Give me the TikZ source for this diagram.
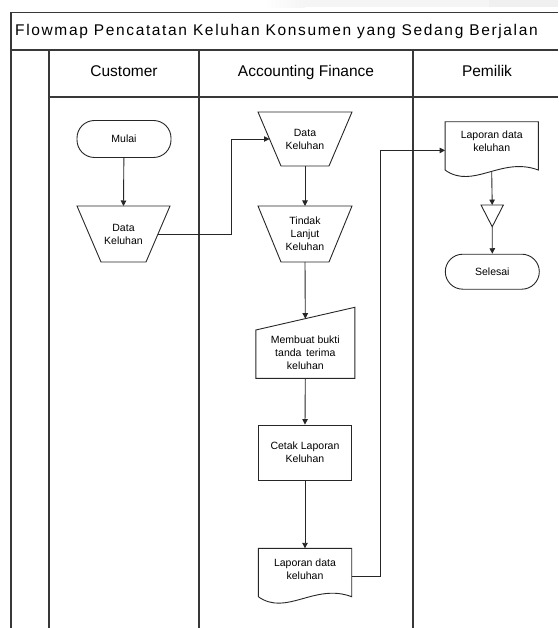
\documentclass[tikz,border=0pt]{standalone}
\usepackage{fontspec}
\setmainfont{Liberation Sans}
\newfontfamily\titlefont[LetterSpace=10.6]{Liberation Sans}
\usetikzlibrary{arrows.meta,calc}
\begin{document}
\begin{tikzpicture}[x=1pt,y=-1pt,
  lane/.style={draw=black!78, line width=1.2pt},
  shp/.style={draw=black!85, line width=0.9pt},
  arr/.style={draw=black!85, line width=0.9pt, -{Triangle[length=5.5pt,width=5.5pt]}},
  txt/.style={font=\fontsize{10.5}{13}\selectfont, align=center, inner sep=0pt},
  hdr/.style={font=\fontsize{15.5}{18}\selectfont, inner sep=0pt},
  box/.style={inner sep=0pt, outer sep=0pt},
  term/.style={shp, txt, rounded corners=17.5pt},
  proc/.style={shp, txt}
]
\useasboundingbox (0,0) rectangle (558,628);
% screenshot band at the top right
\shade[left color=white, right color=gray!8] (265,0) rectangle (305,7.5);
\fill[gray!8] (305,0) rectangle (489,7.5);
\fill[gray!12] (489,0) rectangle (558,7.5);

% swimlane frame
\draw[lane] (11,12.5) -- (558,12.5);
\draw[lane] (11,50) -- (558,50);
\draw[lane] (49,97) -- (558,97);
\draw[lane] (11,12.5) -- (11,628);
\draw[lane] (49,50) -- (49,628);
\draw[lane] (199,50) -- (199,628);
\draw[lane] (413,50) -- (413,628);

\node[anchor=base west, inner sep=0pt] (title) at (15,36)
  {\titlefont\fontsize{15.5}{18}\selectfont Flowmap Pencatatan Keluhan Konsumen yang Sedang Berjalan};
\node[hdr, anchor=base] (h1) at (124,77) {Customer};
\node[hdr, anchor=base] (h2) at (306,77) {Accounting Finance};
\node[hdr, anchor=base] (h3) at (487,77) {Pemilik};

% Customer lane
\node[term, minimum width=94pt, minimum height=37pt] (mulai) at (124,139) {Mulai};
\node[box, txt, minimum width=93pt, minimum height=56pt] (dk1) at (123.5,234) {Data\\Keluhan};
\draw[shp] (dk1.north west) -- (dk1.north east) -- ([xshift=-24pt]dk1.south east)
  -- ([xshift=24pt]dk1.south west) -- cycle;
\coordinate (dk1r) at ([xshift=-12pt]dk1.east);
\coordinate (bend1) at (231,0);

% Accounting Finance lane
\node[box, txt, minimum width=94pt, minimum height=54pt] (dk2) at (305,139) {Data\\Keluhan};
\draw[shp] (dk2.north west) -- (dk2.north east) -- ([xshift=-23pt]dk2.south east)
  -- ([xshift=23pt]dk2.south west) -- cycle;
\coordinate (dk2l) at ([xshift=11.5pt]dk2.west);

\node[box, txt, minimum width=94pt, minimum height=56pt] (tl) at (305,234) {Tindak\\Lanjut\\Keluhan};
\draw[shp] (tl.north west) -- (tl.north east) -- ([xshift=-23pt]tl.south east)
  -- ([xshift=23pt]tl.south west) -- cycle;

\node[box, minimum width=99pt, minimum height=71pt,
  label={[txt, yshift=-10pt]center:Membuat bukti\\tanda\, terima\\keluhan}] (mi) at (305.3,342.8) {};
\draw[shp] (mi.south west) -- ([yshift=-22.7pt]mi.north west) -- (mi.north east)
  -- (mi.south east) -- cycle;
\coordinate (mitop) at ([yshift=-11.35pt]mi.north);

\node[proc, minimum width=93pt, minimum height=55pt] (cetak) at (305,452.5) {Cetak Laporan\\Keluhan};

\node[box, minimum width=93.4pt, minimum height=48.4pt,
  label={[txt, yshift=3.5pt]center:Laporan data\\keluhan}] (ld2) at (305,572.5) {};
\draw[shp] (ld2.south west) -- (ld2.north west) -- (ld2.north east) -- (ld2.south east)
  .. controls ([xshift=-37pt,yshift=14pt]ld2.south east) and ([xshift=28pt,yshift=-20pt]ld2.south west)
  .. (ld2.south west);

% Pemilik lane
\node[box, minimum width=93.3pt, minimum height=48.3pt,
  label={[txt, yshift=5pt]center:Laporan data\\keluhan}] (ld1) at (491.7,145.9) {};
\draw[shp] (ld1.south west) -- (ld1.north west) -- (ld1.north east) -- (ld1.south east)
  .. controls ([xshift=-37pt,yshift=14pt]ld1.south east) and ([xshift=28pt,yshift=-20pt]ld1.south west)
  .. (ld1.south west);

\node[box, minimum width=22.3pt, minimum height=21.7pt] (tri) at (492.2,215.9) {};
\draw[shp] (tri.north west) -- (tri.north east) -- (tri.south) -- cycle;

\node[term, minimum width=94pt, minimum height=35pt] (selesai) at (492.3,271.7) {Selesai};

% connectors
\draw[arr] (mulai) -- (dk1.north);
\draw[arr] (dk1r) -| (bend1 |- dk2l) -- (dk2l);
\draw[arr] (dk2.south) -- (tl.north);
\draw[arr] (tl.south) -- (mitop);
\draw[arr] (mi.south) -- (cetak.north);
\draw[arr] (cetak.south) -- (ld2.north);
\coordinate (ld2r) at ([yshift=-4pt]ld2.east);
\coordinate (ld1l) at ([yshift=-4.5pt]ld1.west);
\coordinate (bend2) at (380,0);
\draw[arr] (ld2r) -| (bend2 |- ld1l) -- (ld1l);
\draw[arr] ([yshift=-2pt]ld1.south) -- (tri.north);
\draw[arr] (tri.south) -- (selesai.north);
\end{tikzpicture}
\end{document}
